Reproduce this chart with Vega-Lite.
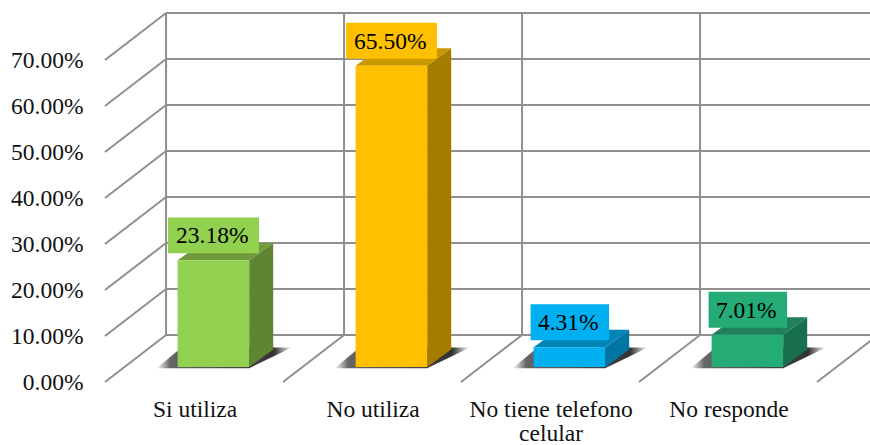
{
"$schema":"https://vega.github.io/schema/vega-lite/v6.json",
"width":765,"height":445,"autosize":"none",
"padding":{"left":105,"top":0,"right":0,"bottom":0},
"background":"white",
"config":{"view":{"stroke":null},"text":{"font":"Liberation Serif"}},
"datasets":{
"bars":[
{"category":"Si utiliza","order":0,"value":0.2318},
{"category":"No utiliza","order":1,"value":0.655},
{"category":"No tiene telefono\ncelular","order":2,"value":0.0431},
{"category":"No responde","order":3,"value":0.0701}],
"ticks":[{"tick":0},{"tick":0.1},{"tick":0.2},{"tick":0.3},{"tick":0.4},{"tick":0.5},{"tick":0.6},{"tick":0.7}],
"floor":[{"slot":0},{"slot":1},{"slot":2},{"slot":3},{"slot":4}]
},
"resolve":{"scale":{"color":"independent"},"axis":{"y":"independent"}},
"layer":[
{"data":{"name":"ticks"},
 "transform":[{"calculate":"datum.tick+0.1022","as":"back"}],
 "mark":{"type":"rule","color":"#8f8f8f","strokeWidth":2},
 "encoding":{
  "x":{"datum":0,"type":"quantitative","scale":{"domain":[0,4.2978],"nice":false},"axis":null},
  "x2":{"datum":0.343},
  "y":{"field":"tick","type":"quantitative","scale":{"domain":[-0.13696,0.83043],"nice":false},
   "axis":{"title":null,"values":[0,0.1,0.2,0.3,0.4,0.5,0.6,0.7],"format":".2%","domain":false,"ticks":false,"grid":false,"labelPadding":22,"labelOffset":0.5,"labelFont":"Liberation Serif","labelFontSize":23.5,"labelColor":"#111111"}},
  "y2":{"field":"back"}}},
{"data":{"name":"ticks"},
 "transform":[{"calculate":"datum.tick+0.1022","as":"back"}],
 "mark":{"type":"rule","color":"#8f8f8f","strokeWidth":2},
 "encoding":{
  "x":{"datum":0.343,"type":"quantitative","scale":{"domain":[0,4.2978],"nice":false},"axis":null},
  "x2":{"datum":4.2978},
  "y":{"field":"back","type":"quantitative","scale":{"domain":[-0.13696,0.83043],"nice":false},"axis":null}}},
{"data":{"name":"floor"},
 "transform":[{"calculate":"datum.slot+0.343","as":"wall"}],
 "mark":{"type":"rule","color":"#8f8f8f","strokeWidth":2,"clip":true},
 "encoding":{
  "x":{"field":"wall","type":"quantitative","scale":{"domain":[0,4.2978],"nice":false},"axis":null},
  "y":{"datum":0.1022,"type":"quantitative","scale":{"domain":[-0.13696,0.83043],"nice":false},"axis":null},
  "y2":{"datum":0.8022}}},
{"data":{"name":"floor"},
 "transform":[{"filter":"datum.slot>0"},{"calculate":"datum.slot+0.343","as":"wall"}],
 "mark":{"type":"rule","color":"#8f8f8f","strokeWidth":2,"clip":true},
 "encoding":{
  "x":{"field":"slot","type":"quantitative","scale":{"domain":[0,4.2978],"nice":false},"axis":null},
  "x2":{"field":"wall"},
  "y":{"datum":0,"type":"quantitative","scale":{"domain":[-0.13696,0.83043],"nice":false},"axis":null},
  "y2":{"datum":0.1022}}},
{"data":{"name":"bars"},
 "transform":[
  {"fold":["a","b","c","d"],"as":["vertex","unused"]},
  {"calculate":"datum.order+({a:0.29,b:0.408,c:0.81,d:1.05})[datum.vertex]","as":"px"},
  {"calculate":"({a:0.03,b:0.068,c:0.075,d:0.075})[datum.vertex]","as":"up"},
  {"calculate":"({a:0.03,b:0.03,c:0.03,d:0.075})[datum.vertex]","as":"low"}],
 "mark":{"type":"area","orient":"vertical","line":false,"color":{"gradient":"linear","x1":0,"y1":0,"x2":1,"y2":0,"stops":[{"offset":0,"color":"#ffffff"},{"offset":0.1,"color":"#666666"},{"offset":0.87,"color":"#333333"},{"offset":1,"color":"#ffffff"}]}},
 "encoding":{
  "x":{"field":"px","type":"quantitative","scale":{"domain":[0,4.2978],"nice":false},"axis":null},
  "y":{"field":"up","type":"quantitative","scale":{"domain":[-0.13696,0.83043],"nice":false},"axis":null},
  "y2":{"field":"low"},
  "detail":{"field":"category"}}},
{"data":{"name":"bars"},
 "transform":[
  {"fold":["front","back"],"as":["edge","unused"]},
  {"calculate":"datum.order+(datum.edge=='front'?0.81:0.945)","as":"px"},
  {"calculate":"datum.edge=='front'?0.0326:0.0706","as":"low"},
  {"calculate":"datum.value+datum.low","as":"up"}],
 "mark":{"type":"area","orient":"vertical","line":false},
 "encoding":{
  "x":{"field":"px","type":"quantitative","scale":{"domain":[0,4.2978],"nice":false},"axis":null},
  "y":{"field":"up","type":"quantitative","scale":{"domain":[-0.13696,0.83043],"nice":false},"axis":null},
  "y2":{"field":"low"},
  "color":{"field":"order","type":"nominal","legend":null,"scale":{"domain":[0,1,2,3],"range":["#5f8532","#a67c00","#0076a3","#186f4d"]}}}},
{"data":{"name":"bars"},
 "transform":[
  {"fold":["a","b","c","d"],"as":["vertex","unused"]},
  {"calculate":"datum.order+({a:0.408,b:0.543,c:0.81,d:0.945})[datum.vertex]","as":"px"},
  {"calculate":"datum.value+0.0326","as":"front"},
  {"calculate":"datum.front+(datum.vertex=='a'?0:0.038)","as":"up"},
  {"calculate":"datum.front+(datum.vertex=='d'?0.038:0)","as":"low"}],
 "mark":{"type":"area","orient":"vertical","line":false},
 "encoding":{
  "x":{"field":"px","type":"quantitative","scale":{"domain":[0,4.2978],"nice":false},"axis":null},
  "y":{"field":"up","type":"quantitative","scale":{"domain":[-0.13696,0.83043],"nice":false},"axis":null},
  "y2":{"field":"low"},
  "color":{"field":"order","type":"nominal","legend":null,"scale":{"domain":[0,1,2,3],"range":["#709a3d","#c99700","#0085b6","#1f8059"]}}}},
{"data":{"name":"bars"},
 "transform":[
  {"calculate":"datum.order+0.408","as":"left"},
  {"calculate":"datum.order+0.81","as":"right"},
  {"calculate":"datum.value+0.0326","as":"top"}],
 "mark":{"type":"rect"},
 "encoding":{
  "x":{"field":"left","type":"quantitative","scale":{"domain":[0,4.2978],"nice":false},"axis":null},
  "x2":{"field":"right"},
  "y":{"field":"top","type":"quantitative","scale":{"domain":[-0.13696,0.83043],"nice":false},"axis":null},
  "y2":{"datum":0.0326},
  "color":{"field":"order","type":"nominal","legend":null,"scale":{"domain":[0,1,2,3],"range":["#92d050","#ffc000","#00b0f0","#24ab76"]}}}},
{"data":{"name":"bars"},
 "transform":[
  {"calculate":"datum.order+(datum.value>=0.1?0.354:0.391)","as":"left"},
  {"calculate":"datum.order+(datum.value>=0.1?0.865:0.832)","as":"right"},
  {"calculate":"datum.value+0.0869+0.039","as":"top"},
  {"calculate":"datum.value+0.0869-0.039","as":"low"}],
 "mark":{"type":"rect"},
 "encoding":{
  "x":{"field":"left","type":"quantitative","scale":{"domain":[0,4.2978],"nice":false},"axis":null},
  "x2":{"field":"right"},
  "y":{"field":"top","type":"quantitative","scale":{"domain":[-0.13696,0.83043],"nice":false},"axis":null},
  "y2":{"field":"low"},
  "color":{"field":"order","type":"nominal","legend":null,"scale":{"domain":[0,1,2,3],"range":["#92d050","#ffc000","#00b0f0","#24ab76"]}}}},
{"data":{"name":"bars"},
 "transform":[
  {"calculate":"datum.order+0.603","as":"mid"},
  {"calculate":"datum.value+0.0849","as":"pos"}],
 "mark":{"type":"text","font":"Liberation Serif","fontSize":23.5,"color":"#000000","baseline":"middle","align":"center"},
 "encoding":{
  "x":{"field":"mid","type":"quantitative","scale":{"domain":[0,4.2978],"nice":false},"axis":null},
  "y":{"field":"pos","type":"quantitative","scale":{"domain":[-0.13696,0.83043],"nice":false},"axis":null},
  "text":{"field":"value","type":"quantitative","format":".2%"}}},
{"data":{"name":"bars"},
 "transform":[{"calculate":"datum.order+0.506","as":"mid"}],
 "mark":{"type":"text","font":"Liberation Serif","fontSize":23.5,"color":"#111111","baseline":"alphabetic","align":"center","lineBreak":"\n","lineHeight":24},
 "encoding":{
  "x":{"field":"mid","type":"quantitative","scale":{"domain":[0,4.2978],"nice":false},"axis":null},
  "y":{"datum":-0.076,"type":"quantitative","scale":{"domain":[-0.13696,0.83043],"nice":false},"axis":null},
  "text":{"field":"category"}}}
]
}
